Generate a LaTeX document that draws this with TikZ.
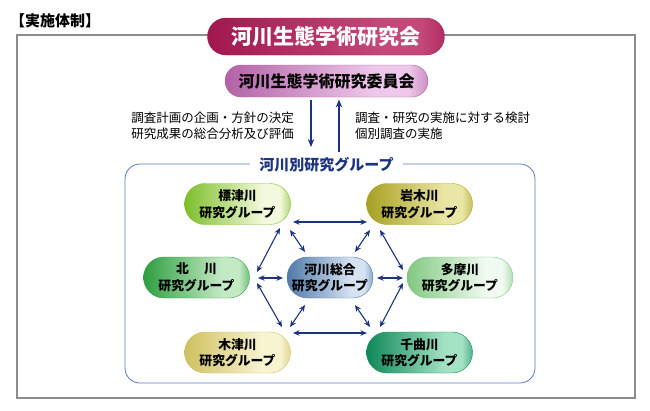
\documentclass[tikz,border=0pt]{standalone}
\usepackage{fontspec}
\setmainfont{Noto Sans CJK JP}
\usetikzlibrary{arrows.meta}
\definecolor{navy}{HTML}{1C3380}
\definecolor{framegray}{HTML}{8C8C8C}
\definecolor{innerblue}{HTML}{5A78C0}
\pgfdeclarehorizontalshading[pillA,pillB]{pillshade}{100bp}{color(0bp)=(pillA); color(25bp)=(pillA); color(62bp)=(pillB); color(70bp)=(pillB); color(75bp)=(pillA!55!pillB); color(100bp)=(pillA)}
\tikzset{
  pill/.style n args={3}{/utils/exec={\definecolor{pillA}{HTML}{#1}\definecolor{pillB}{HTML}{#2}},
    shading=pillshade, rounded corners=#3, draw=pillA, line width=0.4pt,
    align=center, inner sep=0pt, font=\bfseries},
  grp/.style n args={2}{pill={#1}{#2}{20.5pt}, minimum width=106pt, minimum height=41pt,
    font=\bfseries\fontsize{12.8}{16.5}\selectfont},
  dbl/.style={{Stealth[length=6.5pt,width=5.5pt]}-{Stealth[length=6.5pt,width=5.5pt]}, navy, line width=1.1pt},
  sgl/.style={-{Stealth[length=8pt,width=6.5pt]}, navy, line width=1.1pt},
  desc/.style={font=\fontsize{12.5}{16.5}\selectfont, inner sep=0pt}
}
\begin{document}
\begin{tikzpicture}[x=1pt,y=-1pt]
\useasboundingbox (0,0) rectangle (650,410);
% outer frame
\draw[framegray, line width=1.2pt] (17,35) rectangle (635,398);
\node[anchor=west, font=\bfseries\fontsize{15}{18}\selectfont, inner sep=0pt] (hd) at (10,21) {【実施体制】};
% top pills
\node[pill={A0184E}{C4487A}{18.5pt}, minimum width=237pt, minimum height=37pt, text=white,
  font=\bfseries\fontsize{21}{25}\selectfont] (T) at (326,36.5) {河川生態学術研究会};
\node[pill={B262A6}{EEC8EA}{16pt}, minimum width=203pt, minimum height=32pt,
  font=\bfseries\fontsize{16}{19}\selectfont] (C) at (326.5,81) {河川生態学術研究委員会};
% inner frame
\draw[innerblue, line width=0.8pt, rounded corners=15pt] (125,164) rectangle (535,383);
\node[fill=white, inner xsep=9pt, inner ysep=2pt, text=navy, font=\bfseries\fontsize{15}{18}\selectfont] (gl) at (326.5,165) {河川別研究グループ};
% committee arrows and texts
\draw[sgl] ([shift={(-15.5,19)}]C.center) -- ([shift={(-15.5,-18)}]gl.center);
\draw[sgl] ([shift={(12.5,-13)}]gl.center) -- ([shift={(12.5,18.5)}]C.center);
\node[desc, anchor=east, align=right] (ltxt) at (294,126) {調査計画の企画・方針の決定\\研究成果の総合分析及び評価};
\node[desc, anchor=west, align=left] (rtxt) at (355,126) {調査・研究の実施に対する検討\\個別調査の実施};
% groups
\node[grp={7DBE2A}{F2F9DC}] (s) at (237.5,204) {標津川\\研究グループ};
\node[grp={A8A022}{EAE6A6}] (i) at (419.5,204) {岩木川\\研究グループ};
\node[grp={2E9E40}{C4EAC4}] (k) at (196.5,277.5) {北\hspace{1.2em}川\\研究グループ};
\node[grp={5078AA}{D4E2F2}, minimum width=86pt] (g) at (330,277.5) {河川総合\\研究グループ};
\node[grp={80C880}{F0FAF0}] (t) at (460,277.5) {多摩川\\研究グループ};
\node[grp={CFC060}{F8F4D2}] (z) at (237.5,352.5) {木津川\\研究グループ};
\node[grp={0E8858}{A4E2C4}] (c) at (419.5,352.5) {千曲川\\研究グループ};
% connectors
\draw[dbl] ([shift={(55.5,18)}]s.center) -- ([shift={(-52.5,18)}]i.center);
\draw[dbl] ([shift={(55.5,-19.5)}]z.center) -- ([shift={(-52.5,-19.5)}]c.center);
\draw[dbl] ([shift={(42.5,24)}]s.center) -- ([shift={(60.5,-5.5)}]k.center);
\draw[dbl] ([shift={(52.5,26)}]s.center) -- ([shift={(-25,-25.5)}]g.center);
\draw[dbl] ([shift={(-49.5,26)}]i.center) -- ([shift={(25,-25.5)}]g.center);
\draw[dbl] ([shift={(-39.5,26)}]i.center) -- ([shift={(-57,-7.5)}]t.center);
\draw[dbl] ([shift={(61.5,0.5)}]k.center) -- ([shift={(-47,0.5)}]g.center);
\draw[dbl] ([shift={(47,0.5)}]g.center) -- ([shift={(-57,0.5)}]t.center);
\draw[dbl] ([shift={(60.5,5.5)}]k.center) -- ([shift={(44.5,-25.5)}]z.center);
\draw[dbl] ([shift={(-25,27.5)}]g.center) -- ([shift={(52.5,-25.5)}]z.center);
\draw[dbl] ([shift={(25,27.5)}]g.center) -- ([shift={(-49.5,-25.5)}]c.center);
\draw[dbl] ([shift={(-57,5.5)}]t.center) -- ([shift={(-39.5,-25.5)}]c.center);
\end{tikzpicture}
\end{document}
